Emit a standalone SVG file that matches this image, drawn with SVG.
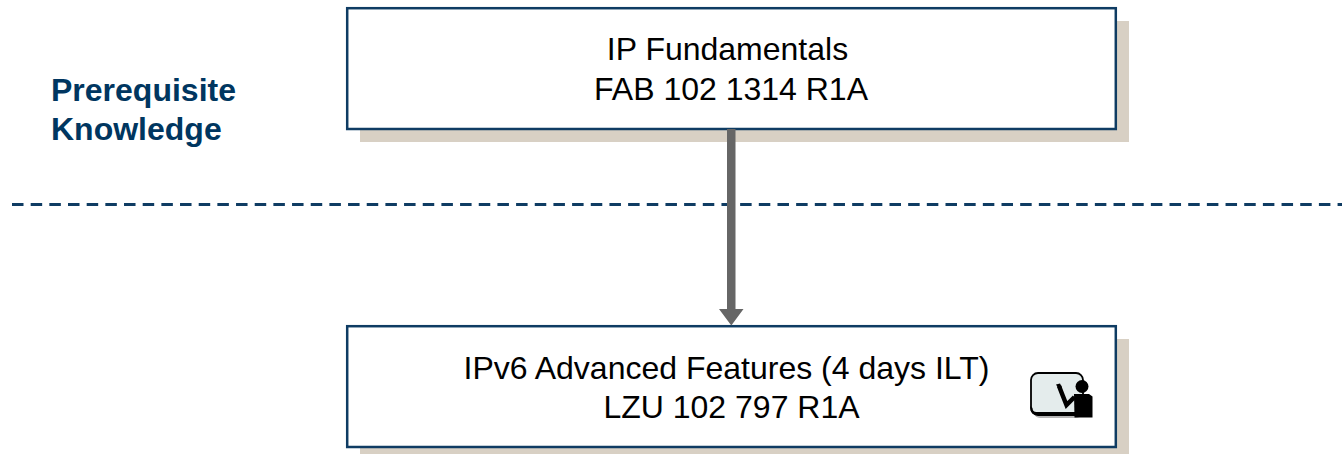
<svg xmlns="http://www.w3.org/2000/svg" width="1342" height="454" viewBox="0 0 1342 454">
<style>
.shadow{fill:#d8d0c4}
.box{fill:#fff;stroke:#0f3c63;stroke-width:2.5}
.t{font-family:"Liberation Sans",Arial,sans-serif;font-size:32px;fill:#000;text-anchor:middle}
.h{font-family:"Liberation Sans",Arial,sans-serif;font-size:32px;font-weight:bold;fill:#003660}
</style>
<rect width="1342" height="454" fill="#fff"/>
<g id="label-prerequisite"><text class="h" x="51" y="101">Prerequisite</text><text class="h" x="51" y="140">Knowledge</text></g>
<g id="node-ip-fundamentals">
<rect class="shadow" x="360" y="21" width="769" height="121"/>
<rect class="box" x="347.200" y="8.200" width="768.600" height="120.800"/>
<text class="t" x="727.500" y="60">IP Fundamentals</text>
<text class="t" x="731" y="100">FAB 102 1314 R1A</text>
</g>
<g id="node-ipv6">
<rect class="shadow" x="360" y="339" width="769" height="121"/>
<rect class="box" x="347.200" y="326.200" width="768.600" height="120.800"/>
<text class="t" x="726.500" y="379">IPv6 Advanced Features (4 days ILT)</text>
<text class="t" x="731.500" y="418">LZU 102 797 R1A</text>
<g id="icon-instructor">
<rect x="1034" y="378" width="48" height="40" rx="6" fill="#b5b5b5"/>
<rect x="1031" y="373" width="52" height="42" rx="7" fill="#e4ecec" stroke="#000" stroke-width="1.800"/>
<path d="M1030.500 406v3a6 6 0 0 0 6 6h40v-3h-40a4 4 0 0 1-4-4z" fill="#000"/>
<circle cx="1082" cy="386.500" r="6.500" fill="#000"/>
<path d="M1059 386l3.500 9 4 10 8-8" fill="none" stroke="#000" stroke-width="4.500"/>
<path d="M1056 384.500l4-1 2 4-3 2z" fill="#000"/>
<path d="M1074 394h15l3.500 2.500v21h-18z" fill="#000"/>
</g>
</g>
<g id="connectors">
<line x1="12" y1="204.500" x2="1342" y2="204.500" stroke="#0f3c63" stroke-width="3" stroke-dasharray="11.500 7.170" fill="none"/>
<path d="M727 129h8.500v180h8l-12.200 16.500-12.300-16.500h8z" fill="#666"/>
</g>
</svg>
